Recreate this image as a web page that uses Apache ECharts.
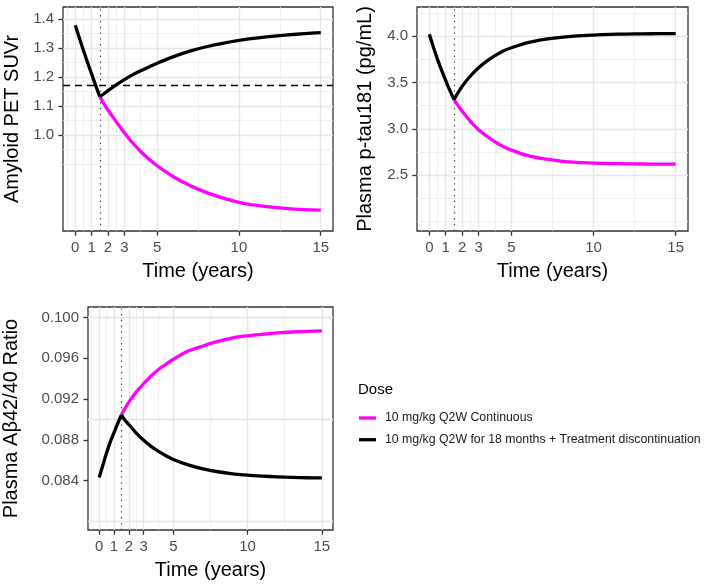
<!DOCTYPE html>
<html>
<head>
<meta charset="utf-8">
<script src="https://cdn.jsdelivr.net/npm/echarts@6/dist/echarts.min.js"></script>
<style>
html,body{margin:0;padding:0;background:#fff;}
#chart{width:709px;height:586px;}
</style>
</head>
<body>
<div id="chart"></div>
<script>
// ---------- data ----------
const time = [0,0.25,0.5,0.75,1,1.25,1.5,1.75,2,2.5,3,3.5,4,4.5,5,6,7,8,9,10,11,12,13,14,15];

const amyloidCont = [1.378,1.334,1.291,1.250,1.210,1.170,1.132,1.108,1.086,1.046,1.008,0.973,0.943,0.917,0.894,0.856,0.826,0.802,0.783,0.768,0.758,0.751,0.746,0.743,0.741];
const amyloidDisc = [1.378,1.334,1.291,1.250,1.210,1.170,1.132,1.142,1.153,1.173,1.191,1.207,1.221,1.234,1.247,1.270,1.289,1.304,1.316,1.326,1.334,1.340,1.345,1.349,1.353];

const ptauCont = [4.02,3.88,3.75,3.63,3.52,3.415,3.315,3.25,3.19,3.08,2.99,2.92,2.86,2.81,2.77,2.71,2.675,2.652,2.638,2.630,2.625,2.622,2.620,2.619,2.618];
const ptauDisc = [4.02,3.88,3.75,3.63,3.52,3.415,3.315,3.39,3.46,3.57,3.66,3.73,3.79,3.84,3.875,3.93,3.965,3.988,4.003,4.012,4.019,4.023,4.025,4.027,4.028];

const abCont = [0.0843,0.0855,0.0867,0.0878,0.0887,0.0896,0.09045,0.0911,0.0917,0.0927,0.0935,0.09425,0.0949,0.0954,0.0959,0.0967,0.0972,0.09765,0.0980,0.0982,0.09835,0.09848,0.09857,0.09863,0.09868];
const abDisc = [0.0843,0.0855,0.0867,0.0878,0.0887,0.0896,0.09045,0.0899,0.0895,0.08866,0.08795,0.08736,0.08686,0.08644,0.08608,0.08554,0.08515,0.08487,0.08467,0.08453,0.08444,0.08437,0.08432,0.08428,0.08426];

const xTicks = [0,1,2,3,5,10,15];
const xMinor = [-0.5,0.5,1.5,2.5,4,7.5,12.5];
const amyloidTicks = [1.0,1.1,1.2,1.3,1.4];
const amyloidMinor = [0.9,0.95,1.05,1.15,1.25,1.35];
const ptauTicks = [2.5,3.0,3.5,4.0];
const ptauMinor = [2.0,2.25,2.75,3.25,3.75,4.25];
const abTicks = [0.084,0.088,0.092,0.096,0.100];
const abMinor = [0.080,0.082,0.086,0.090,0.094,0.098];

const stopTime = 1.5;
const amyloidThreshold = 1.17;

const seriesNames = ['10 mg/kg Q2W Continuous','10 mg/kg Q2W for 18 months + Treatment discontinuation'];
const seriesColors = ['#FF00FF','#000000'];
const yTitles = ['Amyloid PET SUVr','Plasma p-tau181 (pg/mL)','Plasma A\u03b242/40 Ratio'];
const xTitle = 'Time (years)';
const legendTitle = 'Dose';

// ---------- layout ----------
const FONT = '"Liberation Sans", Arial, Helvetica, sans-serif';
const panels = [
  {grid:{left:63, top:7, width:270, height:224}, yMin:0.669, yMax:1.441, ticks:amyloidTicks, minor:amyloidMinor, dec:1, nameGap:41, cont:amyloidCont, disc:amyloidDisc},
  {grid:{left:417, top:7, width:271, height:224}, yMin:1.897, yMax:4.315, ticks:ptauTicks, minor:ptauMinor, dec:1, nameGap:42, cont:ptauCont, disc:ptauDisc},
  {grid:{left:87, top:307, width:246, height:223}, yMin:0.07916, yMax:0.10102, ticks:abTicks, minor:abMinor, dec:3, nameGap:67, cont:abCont, disc:abDisc}
];

const majorStyle = {color:'#e6e6e6', width:1.4, type:'solid'};
const minorStyle = {color:'#eeeeee', width:0.8, type:'solid'};

const grids = [], xAxes = [], yAxes = [], series = [];
function curve(i, name, color, pts, z, smooth) {
  return {
    type:'line', name:name, xAxisIndex:i, yAxisIndex:i, data:pts,
    showSymbol:false, symbol:'none', smooth:smooth,
    lineStyle:{color:color, width:3.3, cap:'butt', join:'round'},
    itemStyle:{color:color}, z:z, animation:false, silent:true
  };
}
panels.forEach((p, i) => {
  grids.push(Object.assign({show:true, borderColor:'#333333', borderWidth:1.3, backgroundColor:'#ffffff', containLabel:false}, p.grid));
  xAxes.push({
    gridIndex:i, type:'value', min:-0.75, max:15.75,
    splitLine:{show:false},
    axisLine:{show:false, onZero:false},
    axisTick:{show:true, customValues:xTicks, length:4.7, lineStyle:{color:'#333333', width:1.3}},
    axisLabel:{customValues:xTicks, color:'#4d4d4d', fontSize:15, fontFamily:FONT, margin:9},
    name:xTitle, nameLocation:'middle', nameGap:30,
    nameTextStyle:{fontSize:20, color:'#000', fontFamily:FONT}
  });
  yAxes.push({
    gridIndex:i, type:'value', min:p.yMin, max:p.yMax,
    splitLine:{show:false},
    axisLine:{show:false, onZero:false},
    axisTick:{show:true, customValues:p.ticks, length:4.7, lineStyle:{color:'#333333', width:1.3}},
    axisLabel:{customValues:p.ticks, color:'#4d4d4d', fontSize:15, fontFamily:FONT, margin:9,
      formatter:(v)=>Number(v).toFixed(p.dec)},
    name:yTitles[i], nameLocation:'middle', nameGap:p.nameGap, nameRotate:90,
    nameTextStyle:{fontSize:20, color:'#000', fontFamily:FONT}
  });
  // grid lines
  const gl = [];
  xMinor.forEach(v => gl.push({xAxis:v, lineStyle:minorStyle}));
  p.minor.forEach(v => gl.push({yAxis:v, lineStyle:minorStyle}));
  xTicks.forEach(v => gl.push({xAxis:v, lineStyle:majorStyle}));
  p.ticks.forEach(v => gl.push({yAxis:v, lineStyle:majorStyle}));
  series.push({
    type:'line', name:'_grid'+i, xAxisIndex:i, yAxisIndex:i, data:[], silent:true, z:1,
    markLine:{z:1, silent:true, symbol:['none','none'], animation:false, label:{show:false}, emphasis:{disabled:true}, data:gl}
  });
  // reference lines
  const ref = [{xAxis:stopTime, lineStyle:{color:'#444', width:1.2, type:[1.3,4.5]}}];
  if (i === 0) ref.push({yAxis:amyloidThreshold, lineStyle:{color:'#000', width:1.3, type:[7,5]}});
  series.push({
    type:'line', name:'_ref'+i, xAxisIndex:i, yAxisIndex:i, data:[], silent:true, z:2,
    markLine:{z:2, silent:true, symbol:['none','none'], animation:false, label:{show:false}, emphasis:{disabled:true}, data:ref}
  });
  const contPts = time.map((t, j) => [t, p.cont[j]]);
  const discPts = time.map((t, j) => [t, p.disc[j]]);
  // continuous dose after stop time (before it, it is covered by the shared black segment)
  series.push(curve(i, seriesNames[0], seriesColors[0], contPts.filter(d => d[0] >= stopTime), 3, 0.3));
  // discontinuation: shared treatment phase, then off-treatment phase
  series.push(curve(i, seriesNames[1], seriesColors[1], discPts.filter(d => d[0] <= stopTime), 4, 0.3));
  series.push(curve(i, seriesNames[1], seriesColors[1], discPts.filter(d => d[0] >= stopTime), 4, 0.3));
});

const chart = echarts.init(document.getElementById('chart'), null, {renderer:'canvas'});
chart.setOption({
  backgroundColor:'#ffffff',
  animation:false,
  textStyle:{fontFamily:FONT},
  title:{text:legendTitle, left:358, top:382, padding:0,
    textStyle:{fontSize:15, fontWeight:'normal', color:'#000', fontFamily:FONT}},
  legend:{
    data:seriesNames, orient:'vertical', left:359, top:411, padding:0,
    itemWidth:17, itemHeight:3.3, itemGap:7.7, icon:'rect', selectedMode:false,
    textStyle:{fontSize:12.3, color:'#1a1a1a', fontFamily:FONT, lineHeight:14, padding:[0,0,0,4]}
  },
  grid:grids, xAxis:xAxes, yAxis:yAxes, series:series
});
</script>
</body>
</html>
